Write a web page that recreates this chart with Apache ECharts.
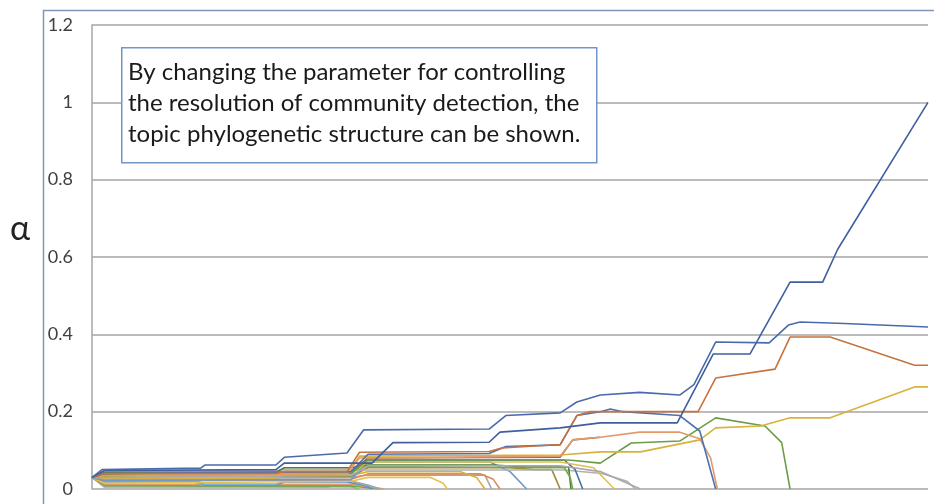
<!DOCTYPE html>
<html>
<head>
<meta charset="utf-8">
<script src="https://cdn.jsdelivr.net/npm/echarts@6/dist/echarts.min.js"></script>
<style>html,body{margin:0;padding:0;background:#fff}#c{width:934px;height:504px}</style>
</head>
<body>
<div id="c"></div>
<script>
// y-axis ticks
const yTicks = [0, 0.2, 0.4, 0.6, 0.8, 1, 1.2];
const yAxisName = 'α';
const annotation = ['By changing the parameter for controlling', 'the resolution of community detection, the', 'topic phylogenetic structure can be shown.'];

// Each series: [x (0..100 resolution steps), alpha]
const s01 = [[0,0.03],[1.2,0.05],[13,0.054],[13.5,0.062],[22,0.062],[23,0.082],[30.5,0.093],[32.5,0.153],[47.5,0.155],[49.5,0.19],[56,0.197],[58,0.225],[60.8,0.243],[65.5,0.25],[70.3,0.243],[72,0.27],[74.6,0.38],[81,0.378],[83.3,0.424],[84.7,0.432],[90,0.428],[100,0.419]];
const s02 = [[0,0.03],[1.5,0.048],[22,0.05],[23,0.067],[33.5,0.067],[36,0.12],[47.5,0.121],[48.8,0.147],[56,0.158],[60.8,0.171],[70,0.171],[74.3,0.349],[78.7,0.349],[83.5,0.535],[87.4,0.535],[89.2,0.62],[100,1.0]];
const s03 = [[0,0.03],[1.5,0.04],[22,0.04],[23,0.045],[30.5,0.045],[32,0.095],[47.5,0.097],[49,0.106],[56,0.115],[58,0.19],[59.5,0.2],[72.5,0.2],[74.6,0.287],[81.7,0.31],[83.5,0.393],[88.3,0.393],[98.4,0.32],[100,0.32]];
const s04 = [[0,0.03],[1.5,0.035],[30.5,0.04],[32,0.08],[56,0.085],[57.5,0.127],[60.8,0.134],[65.5,0.147],[70.3,0.147],[72.7,0.13],[74,0.08],[74.8,0]];
const s05 = [[0,0.03],[1.5,0.035],[30.5,0.04],[32,0.085],[56,0.088],[60.8,0.096],[65.6,0.096],[72.7,0.127],[74.6,0.158],[80,0.163],[83.5,0.184],[88.3,0.184],[98.4,0.264],[100,0.264]];
const s06 = [[0,0.03],[2,0.035],[31,0.04],[33,0.075],[57,0.075],[60.8,0.067],[64.5,0.119],[70.3,0.124],[74.6,0.184],[80.5,0.163],[82.5,0.12],[83.5,0]];
const s07 = [[0,0.03],[1.5,0.04],[31,0.045],[33,0.09],[47.5,0.092],[49.5,0.11],[56,0.114],[58,0.19],[60.8,0.2],[62,0.207],[63.5,0.2],[70.3,0.19],[72.7,0.15],[74.6,0]];
const s08 = [[0,0.03],[2,0.03],[31,0.035],[33,0.06],[56,0.06],[60.8,0.045],[63.5,0.02],[65.6,0]];
const s09 = [[0,0.03],[2,0.03],[31,0.04],[33,0.07],[56,0.07],[60,0.055],[62.5,0]];
const s10 = [[0,0.03],[1.5,0.025],[31,0.03],[33,0.036],[47,0.036],[47.8,0]];
const s11 = [[0,0.03],[1.5,0.02],[31,0.025],[33,0.039],[46.5,0.039],[48,0.025],[48.8,0]];
const s12 = [[0,0.03],[1.5,0.022],[31,0.025],[33,0.07],[47.6,0.07],[50,0.045],[52,0]];
const s13 = [[0,0.03],[1.5,0.015],[31,0.02],[33,0.03],[40.5,0.03],[42,0.015],[42.5,0]];
const s14 = [[0,0.03],[1.5,0.04],[31,0.045],[33,0.058],[56.5,0.055],[57.2,0.03],[57.5,0]];
const s15 = [[0,0.03],[1.5,0.035],[31,0.04],[33,0.075],[56.5,0.075],[57.8,0.05],[58.7,0]];
const s16 = [[0,0.03],[1.5,0.047],[22,0.047],[23,0.05],[31,0.05],[33,0.049],[56.5,0.049],[61,0.04],[64,0.02],[65,0]];
const s17 = [[0,0.03],[1.5,0.043],[22,0.043],[23,0.055],[31,0.055],[33,0.062],[48,0.062],[52,0.057],[57,0.057],[57.3,0]];
const s18 = [[0,0.03],[1.5,0.023],[30.5,0.023],[32,0.015],[34.4,0]];
const s19 = [[0,0.03],[1.5,0.018],[12.9,0.018],[13.5,0.01],[22,0.01],[23,0.018],[30.5,0.018],[32.5,0.01],[33.5,0]];
const s20 = [[0,0.03],[1.5,0.012],[31,0.012],[33,0.006],[35,0]];
const s21 = [[0,0.03],[1.5,0.008],[31,0.008],[34.4,0]];
const s22 = [[0,0.03],[1.5,0.028],[22,0.028],[23,0.035],[31,0.035],[33,0.045],[44,0.045],[46,0.03],[47,0]];
const s23 = [[0,0.03],[1.5,0.038],[22,0.038],[23,0.045],[31,0.045],[33,0.08],[56,0.082],[57.5,0.127],[60.8,0.134]];
const s24 = [[0,0.03],[1.5,0.02],[12,0.02],[13,0.012],[22,0.012],[23,0.02],[31,0.02],[33,0.01],[34.5,0]];
const s25 = [[0,0.03],[1.5,0.01],[31,0.005],[32,0]];
const s26 = [[0,0.03],[1.5,0.004],[28,0.004],[29,0]];
const s27 = [[0,0.03],[1.5,0.033],[31,0.033],[33,0.055],[50,0.055],[53,0.05],[55,0.05],[56,0]];

const seriesList = [
  [s26,'#b8b8b8'],[s25,'#8cc168'],[s21,'#70a050'],[s20,'#e09a68'],[s19,'#5b8fd0'],[s24,'#7cafdd'],
  [s18,'#a5a5a5'],[s13,'#e6c24a'],[s10,'#a5a5a5'],[s11,'#e08a55'],[s22,'#d9b040'],[s27,'#a08a30'],
  [s12,'#6a9bd0'],[s16,'#b0b0b0'],[s17,'#4f7a35'],[s14,'#74a850'],[s15,'#4a6fae'],[s23,'#a0603a'],
  [s09,'#e0bf50'],[s08,'#a9a9a9'],[s06,'#6c9c4a'],[s05,'#d9b23c'],[s04,'#e39a6a'],[s07,'#4d72b0'],
  [s03,'#c8733d'],[s02,'#3f5f9f'],[s01,'#4a6bab']
];

const chart = echarts.init(document.getElementById('c'), null, {renderer:'canvas'});
const font = 'Lato, "Open Sans", sans-serif';
chart.setOption({
  animation: false,
  backgroundColor: '#fff',
  grid: {left: 92, top: 25, right: 6, bottom: 15, containLabel: false},
  xAxis: {type:'value', min:0, max:100, show:false},
  yAxis: {type:'value', min:yTicks[0], max:yTicks[yTicks.length-1], interval:0.2,
    axisLine:{show:true, lineStyle:{color:'#a6a6a6', width:1.5}},
    axisTick:{show:false},
    axisLabel:{color:'#404040', fontSize:18, fontFamily:'Lato', margin:19},
    splitLine:{lineStyle:{color:'#a6a6a6', width:1.5}}
  },
  series: seriesList.map(([d,c]) => ({type:'line', data:d, symbol:'none', smooth:false,
    lineStyle:{color:c, width:1.6}, silent:true})),
  graphic: [
    {type:'rect', left:41, top:8, shape:{width:1000, height:1000}, style:{fill:null, stroke:'#8494b8', lineWidth:1.5}, silent:true},
    {type:'text', left:10, top:212, style:{text:yAxisName, font:'34px ' + font, fill:'#222'}},
    {type:'rect', left:121, top:47, z:100, shape:{width:475, height:115}, style:{fill:'#fff', stroke:'#7396c8', lineWidth:1.5}},
    {type:'text', left:128, top:57, z:101, style:{text:annotation.join('\n'), font:'24px ' + font, lineHeight:31, fill:'#1a1a1a'}}
  ]
});
</script>
</body>
</html>
